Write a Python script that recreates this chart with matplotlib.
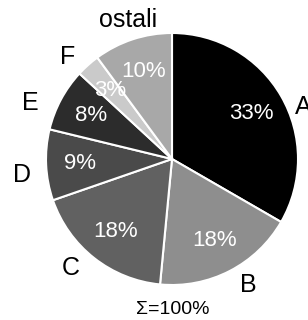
import matplotlib.pyplot as plt

# slice data (clockwise from 12 o'clock)
labels = ['A', 'B', 'C', 'D', 'E', 'F', 'ostali']
values = [33, 18, 18, 9, 8, 3, 10]
colors = ['#000000', '#8e8e8e', '#616161', '#4a4a4a', '#2c2c2c', '#cacaca', '#a8a8a8']

# where the slice names sit (pixels from top-left)
label_pos = [(303, 107), (248, 285), (71, 268), (22, 175), (30, 103), (68, 57), (128, 20)]

plt.rcParams['font.family'] = ['Liberation Sans', 'DejaVu Sans']

fig = plt.figure(figsize=(3.08, 3.2), dpi=100)
ax = fig.add_axes([0, 0, 1, 1])

wedges, texts, autotexts = ax.pie(
    values, colors=colors, startangle=90, counterclock=False,
    center=(172, 161), radius=126, frame=True,
    autopct=lambda p: '%d%%' % round(p * sum(values) / 100),
    pctdistance=0.73,
    wedgeprops=dict(edgecolor='white', linewidth=1.5),
    textprops=dict(fontsize=16, color='white'))

for lab, (x, y) in zip(labels, label_pos):
    ax.text(x, 320 - y, lab, ha='center', va='center', fontsize=18)

ax.text(173, 10, 'Σ=100%', ha='center', va='center', fontsize=14)

ax.set_xlim(0, 308)
ax.set_ylim(0, 320)
ax.set_aspect('equal')
ax.axis('off')

plt.savefig('out.png', dpi=100)
